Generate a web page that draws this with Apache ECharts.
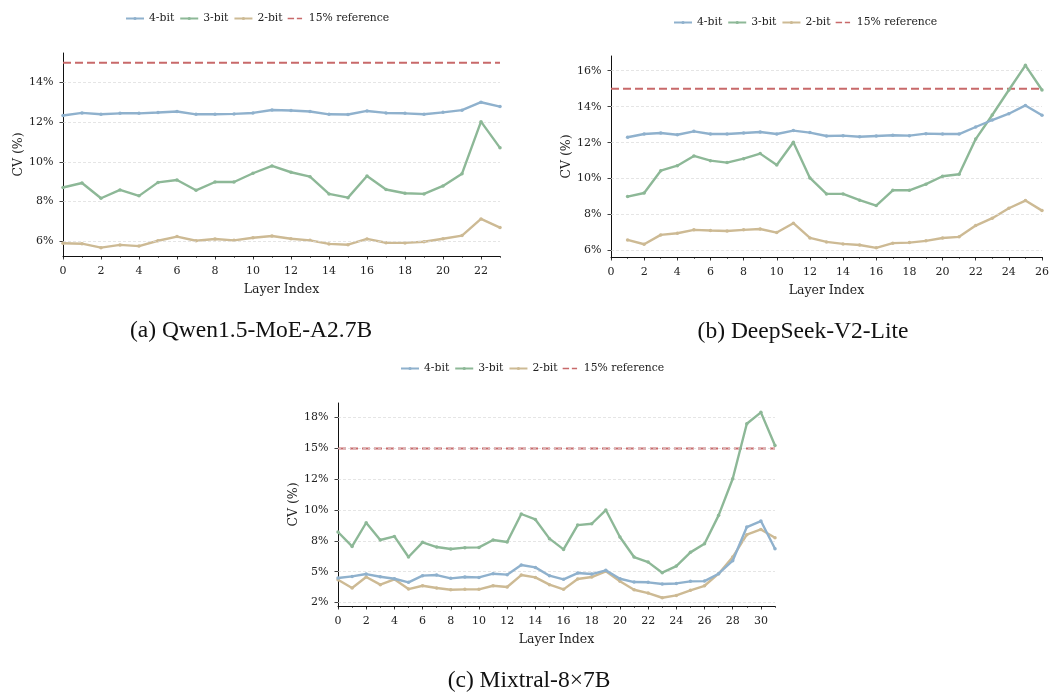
<!DOCTYPE html>
<html><head><meta charset="utf-8">
<script src="https://cdn.jsdelivr.net/npm/echarts@6/dist/echarts.min.js"></script>
<style>html,body{margin:0;padding:0;background:#fff}#c{width:1052px;height:694px}</style>
</head><body><div id="c"></div>
<script>
const seriesNames = ['4-bit', '3-bit', '2-bit', '15% reference'];
const refValue = 15;

// (a) Qwen1.5-MoE-A2.7B
const layersA = [0,1,2,3,4,5,6,7,8,9,10,11,12,13,14,15,16,17,18,19,20,21,22,23];
const qwen4 = [12.34,12.47,12.40,12.45,12.45,12.49,12.54,12.40,12.40,12.42,12.47,12.62,12.59,12.54,12.40,12.39,12.57,12.47,12.45,12.40,12.50,12.61,13.01,12.79];
const qwen3 = [8.71,8.94,8.17,8.59,8.29,8.97,9.09,8.57,8.99,8.99,9.43,9.80,9.48,9.26,8.39,8.20,9.29,8.61,8.42,8.39,8.79,9.41,12.03,10.71];
const qwen2 = [5.90,5.88,5.68,5.82,5.76,6.03,6.24,6.03,6.12,6.05,6.18,6.27,6.13,6.05,5.87,5.83,6.12,5.93,5.92,5.98,6.13,6.29,7.13,6.69];

// (b) DeepSeek-V2-Lite
const layersB = [1,2,3,4,5,6,7,8,9,10,11,12,13,14,15,16,17,18,19,20,21,22,23,24,25,26];
const ds4 = [12.30,12.48,12.54,12.44,12.63,12.48,12.48,12.54,12.59,12.48,12.67,12.56,12.37,12.39,12.33,12.37,12.41,12.39,12.50,12.48,12.48,12.87,13.26,13.61,14.07,13.52];
const ds3 = [9.00,9.20,10.44,10.72,11.26,11.00,10.89,11.11,11.39,10.76,12.02,10.04,9.15,9.15,8.80,8.50,9.35,9.35,9.69,10.13,10.24,12.20,13.54,14.93,16.30,14.93];
const ds2 = [6.59,6.35,6.87,6.96,7.15,7.11,7.09,7.15,7.20,7.00,7.52,6.70,6.48,6.37,6.31,6.15,6.41,6.44,6.54,6.70,6.76,7.39,7.80,8.35,8.78,8.22];

// (c) Mixtral-8x7B
const layersC = [0,1,2,3,4,5,6,7,8,9,10,11,12,13,14,15,16,17,18,19,20,21,22,23,24,25,26,27,28,29,30,31];
const mix4 = [4.49,4.62,4.81,4.59,4.43,4.14,4.68,4.73,4.46,4.57,4.54,4.84,4.76,5.54,5.35,4.68,4.38,4.89,4.81,5.11,4.43,4.16,4.14,4.00,4.05,4.22,4.24,4.84,5.89,8.62,9.11,6.86];
const mix3 = [8.22,7.05,8.97,7.57,7.86,6.19,7.38,7.00,6.84,6.95,6.97,7.57,7.41,9.68,9.24,7.68,6.81,8.78,8.89,10.00,7.81,6.19,5.78,4.92,5.46,6.57,7.27,9.57,12.54,17.00,17.92,15.24];
const mix2 = [4.35,3.68,4.57,3.95,4.38,3.59,3.86,3.68,3.54,3.57,3.57,3.86,3.76,4.73,4.54,3.95,3.57,4.41,4.57,5.03,4.22,3.54,3.27,2.89,3.08,3.49,3.86,4.84,6.19,8.00,8.43,7.76];

// tick values and labels
const yTicksA = [6, 8, 10, 12, 14];
const yLabelsA = ['6%', '8%', '10%', '12%', '14%'];
const yTicksB = [6, 8, 10, 12, 14, 16];
const yLabelsB = ['6%', '8%', '10%', '12%', '14%', '16%'];
const yTicksC = [2.5, 5, 7.5, 10, 12.5, 15, 17.5];
const yLabelsC = ['2%', '5%', '8%', '10%', '12%', '15%', '18%'];
const xTicksA = [0,2,4,6,8,10,12,14,16,18,20,22];
const xTicksB = [0,2,4,6,8,10,12,14,16,18,20,22,24,26];
const xTicksC = [0,2,4,6,8,10,12,14,16,18,20,22,24,26,28,30];
const captions = ['(a) Qwen1.5-MoE-A2.7B', '(b) DeepSeek-V2-Lite', '(c) Mixtral-8\u00d77B'];
const xAxisName = 'Layer Index';
const yAxisName = 'CV (%)';

const colors = ['#8fb1cd', '#8db897', '#cdba94', '#c8696a'];
const SERIF = 'DejaVu Serif';
// dashed legend icon (two dashes; degenerate points pad the box height)
const dashIcon = 'path://M0,0L0.01,0Z M0,5L0.01,5Z M0,1.5h8v2h-8Z M11.5,1.5h6.5v2h-6.5Z';

const panels = [
  { layers: layersA, vals: [qwen4, qwen3, qwen2], yTicks: yTicksA, yLabels: yLabelsA, xTicks: xTicksA,
    left: 63, top: 53, width: 437, height: 203, yMin: 5.26, yMax: 15.49, xMax: 23,
    legLeft: 125, legTop: 13, capX: 251, capY: 331 },
  { layers: layersB, vals: [ds4, ds3, ds2], yTicks: yTicksB, yLabels: yLabelsB, xTicks: xTicksB,
    left: 611, top: 56, width: 431, height: 201, yMin: 5.64, yMax: 16.82, xMax: 26,
    legLeft: 673, legTop: 17, capX: 803, capY: 332 },
  { layers: layersC, vals: [mix4, mix3, mix2], yTicks: yTicksC, yLabels: yLabelsC, xTicks: xTicksC,
    left: 338, top: 403, width: 437, height: 203, yMin: 2.22, yMax: 18.68, xMax: 31,
    legLeft: 400, legTop: 363, capX: 529, capY: 681 }
];

const option = {
  animation: false,
  backgroundColor: '#fff',
  grid: [], xAxis: [], yAxis: [], series: [], legend: [], graphic: []
};

panels.forEach((p, i) => {
  option.grid.push({ left: p.left, top: p.top, width: p.width, height: p.height, containLabel: false });
  const allInts = [];
  for (let k = 0; k <= p.xMax; k++) allInts.push(k);
  option.xAxis.push({
    type: 'value', gridIndex: i, min: 0, max: p.xMax, position: 'bottom',
    name: xAxisName, nameLocation: 'middle', nameGap: 27,
    nameTextStyle: { fontFamily: SERIF, fontSize: 12.5, color: '#222' },
    axisLine: { show: true, onZero: false, lineStyle: { color: '#111', width: 1 } },
    axisTick: { show: true, length: 3.5, customValues: p.xTicks, lineStyle: { color: '#111', width: 0.8 } },
    axisLabel: { show: true, customValues: p.xTicks, margin: 10, fontFamily: SERIF, fontSize: 11, color: '#222' },
    splitLine: { show: false }
  });
  option.xAxis.push({
    type: 'value', gridIndex: i, min: 0, max: p.xMax, position: 'bottom',
    axisLine: { show: false },
    axisTick: { show: true, length: 2, customValues: allInts, lineStyle: { color: '#111', width: 0.6 } },
    axisLabel: { show: false },
    splitLine: { show: false }
  });
  const yt = p.yTicks, yl = p.yLabels;
  option.yAxis.push({
    type: 'value', gridIndex: i, min: p.yMin, max: p.yMax,
    name: yAxisName, nameLocation: 'middle', nameGap: 38, nameRotate: 90,
    nameTextStyle: { fontFamily: SERIF, fontSize: 12.5, color: '#222' },
    axisLine: { show: true, onZero: false, lineStyle: { color: '#111', width: 1 } },
    axisTick: { show: true, length: 3.5, customValues: yt, lineStyle: { color: '#111', width: 0.8 } },
    axisLabel: { show: true, customValues: yt, margin: 9.5, fontFamily: SERIF, fontSize: 11, color: '#222',
      formatter: v => { const k = yt.findIndex(t => Math.abs(t - v) < 1e-6); return k >= 0 ? yl[k] : ''; } },
    splitLine: { show: false }
  });
  const xi = i * 2;
  // grid lines
  option.series.push({
    type: 'line', xAxisIndex: xi, yAxisIndex: i, data: [], z: 1, silent: true,
    markLine: { silent: true, symbol: 'none', label: { show: false },
      lineStyle: { color: '#dadada', width: 0.7, type: [3, 2] },
      emphasis: { disabled: true },
      data: yt.map(v => ({ yAxis: v })) }
  });
  // reference line
  option.series.push({
    name: seriesNames[3], type: 'line', xAxisIndex: xi, yAxisIndex: i, z: 3,
    data: [[0, refValue], [p.xMax, refValue]], showSymbol: false, symbol: 'none',
    lineStyle: { color: colors[3], width: 2, type: [8, 4] }, itemStyle: { color: colors[3] },
    emphasis: { disabled: true }, silent: true
  });
  // data series
  [0, 1, 2].forEach(s => {
    option.series.push({
      name: seriesNames[s], type: 'line', xAxisIndex: xi, yAxisIndex: i, z: 4 + (2 - s),
      data: p.layers.map((x, k) => [x, p.vals[s][k]]),
      symbol: 'circle', symbolSize: 3.5, showSymbol: true,
      lineStyle: { color: colors[s], width: 2.4 }, itemStyle: { color: colors[s] },
      emphasis: { disabled: true }, silent: true
    });
  });
  option.legend.push({
    left: p.legLeft, top: p.legTop, padding: 0, itemWidth: 18, itemHeight: 4, itemGap: 5,
    data: [
      { name: seriesNames[0] }, { name: seriesNames[1] }, { name: seriesNames[2] },
      { name: seriesNames[3], icon: dashIcon, itemStyle: { color: colors[3] } }
    ],
    textStyle: { fontFamily: SERIF, fontSize: 10.8, color: '#222' },
    selectedMode: false
  });
});

option.graphic = panels.map((p, i) => ({
  type: 'text', x: p.capX, y: p.capY, silent: true,
  style: { text: captions[i], fontFamily: 'Liberation Serif', fontSize: 23.5, fill: '#111',
    align: 'center', verticalAlign: 'middle' }
}));

const chart = echarts.init(document.getElementById('c'), null, { renderer: 'canvas' });
chart.setOption(option);
</script>
</body></html>
